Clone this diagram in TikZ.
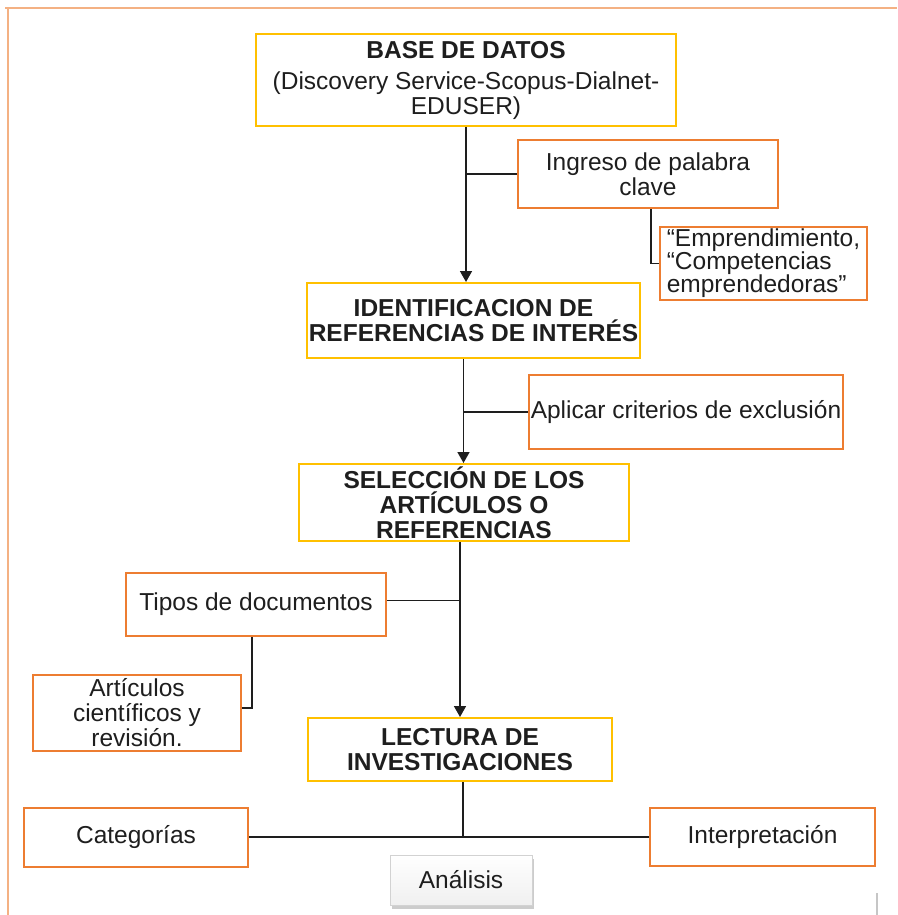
\documentclass[tikz,border=0pt]{standalone}
\usepackage{fontspec}
\setmainfont{Liberation Sans}
\usetikzlibrary{calc,arrows.meta,shadows}
\definecolor{amarillo}{HTML}{FFC000}
\definecolor{naranja}{HTML}{ED7D31}
\definecolor{marco}{HTML}{F4B183}
\definecolor{tinta}{HTML}{1E1E1E}
\def\tamano{\fontsize{24.5}{25}\selectfont}
\tikzset{
	paso/.style={draw=amarillo, line width=2pt, align=center, inner sep=2pt, text=tinta, font=\tamano},
	cabeza/.style={paso, font=\tamano\bfseries},
	nota/.style={draw=naranja, line width=2pt, align=center, inner sep=2pt, text=tinta, font=\tamano},
	resumen/.style={draw=gray!35, line width=0.8pt, top color=white, bottom color=gray!12, text=tinta, font=\tamano,
		drop shadow={opacity=0.4, shadow xshift=1.5pt, shadow yshift=-3.5pt}},
	enlace/.style={draw=tinta, line width=1.6pt},
	flecha/.style={enlace, -{Triangle[length=11pt,width=12pt]}}
}

\begin{document}
\begin{tikzpicture}[x=1pt,y=-1pt]
		%%%%% START %%%%%
		\useasboundingbox (0,0) rectangle (897,915);
		
		\draw[marco, line width=2.5pt] (5,8) -- (897,8);
		\draw[marco, line width=2.5pt] (8,8) -- (8,915);
		\draw[gray!45, line width=1.5pt] (877,893) -- (877,915);
		
		\node[paso, minimum width=420pt, minimum height=92pt] (base) at (466,80) {\textbf{BASE DE DATOS}\\[6pt](Discovery Service-Scopus-Dialnet-\\EDUSER)};
		\node[nota, minimum width=260pt, minimum height=68pt] (ingreso) at (648,174) {Ingreso de palabra\\clave};
		\node[nota, align=left, font=\fontsize{24.5}{23}\selectfont, minimum width=207pt, minimum height=73pt] (empr) at (763.5,263.5) {“Emprendimiento,\\“Competencias\\emprendedoras”};
		
		\node[cabeza, minimum width=329pt, minimum height=75pt] (ident) at (473.5,320.5) {IDENTIFICACION DE\\REFERENCIAS DE INTERÉS};
		\node[nota, minimum width=310pt, minimum height=74pt] (aplicar) at (686,412) {Aplicar criterios de exclusión};
		
		\node[cabeza, minimum width=330pt, minimum height=77pt] (selec) at (464,502.5) {SELECCIÓN DE LOS\\ARTÍCULOS O\\REFERENCIAS};
		\node[nota, minimum width=260pt, minimum height=63pt] (tipos) at (256,604.5) {Tipos de documentos};
		\node[nota, minimum width=208pt, minimum height=76pt] (articulos) at (137,713) {Artículos\\científicos y\\revisión.};
		
		\node[cabeza, minimum width=304pt, minimum height=63pt] (lectura) at (460,749.5) {LECTURA DE\\INVESTIGACIONES};
		\node[nota, minimum width=224pt, minimum height=59pt] (categ) at (136,837) {Categorías};
		\node[nota, minimum width=225pt, minimum height=58pt] (interp) at (762.5,837) {Interpretación};
		\node[resumen, minimum width=142pt, minimum height=50pt] (analisis) at (461,880) {Análisis};
		
		\draw[flecha] (base.south) -- (base.south |- ident.north);
		\draw[enlace] (base.south |- ingreso.west) -- (ingreso.west);
		\draw[enlace] ($(ingreso.south)+(3,0)$) |- (empr.west);
		
		\coordinate (eje2) at ($(ident.south)+(-10,0)$);
		\draw[flecha] (eje2) -- (eje2 |- selec.north);
		\draw[enlace] (eje2 |- aplicar.west) -- (aplicar.west);
		
		\coordinate (eje3) at ($(selec.south)+(-4,0)$);
		\draw[flecha] (eje3) -- (eje3 |- lectura.north);
		\draw[enlace] ($(tipos.east)+(0,-4)$) -- ($(tipos.east -| eje3)+(0,-4)$);
		\draw[enlace] ($(tipos.south)+(-4,0)$) |- ($(articulos.east)+(0,-5)$);
		
		\coordinate (eje4) at ($(lectura.south)+(3,0)$);
		\draw[enlace] (eje4) -- (eje4 |- categ.east);
		\draw[enlace] (categ.east) -- (interp.west);
		
		%%%%% END %%%%%
	\end{tikzpicture}
\end{document}
